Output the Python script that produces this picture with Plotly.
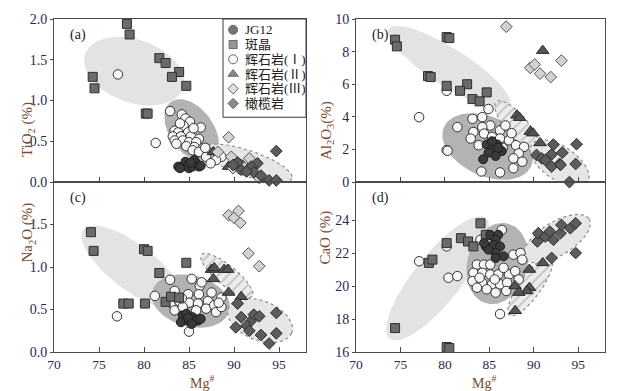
import numpy as np
import plotly.graph_objects as go

# ---------------- data ----------------
# panel (a) TiO2 vs Mg#
a_jg12_x = [83.8, 84.3, 84.6, 84.9, 85.0, 85.4, 85.6, 85.8, 86.1, 86.3, 84.0, 85.2]
a_jg12_y = [0.19, 0.19, 0.25, 0.21, 0.17, 0.19, 0.27, 0.23, 0.19, 0.20, 0.17, 0.24]
a_ph_x = [78.1, 78.4, 74.3, 74.5, 81.7, 82.4, 83.9, 83.1, 84.7, 80.2, 80.4]
a_ph_y = [1.94, 1.81, 1.29, 1.15, 1.52, 1.46, 1.35, 1.29, 1.18, 0.84, 0.84]
a_p1_x = [77.1, 81.3, 82.9, 84.2, 84.6, 85.1, 84.4, 86.3, 83.4, 83.8, 84.9, 83.2, 84.1, 85.2, 86.1, 83.4, 84.3,
          85.0, 85.8, 83.6, 84.7, 85.6, 86.5, 85.4, 86.1, 87.1, 86.9, 88.2, 88.6, 88.0, 87.4, 84.0, 85.5, 86.8]
a_p1_y = [1.32, 0.48, 0.87, 0.83, 0.78, 0.74, 0.69, 0.67, 0.63, 0.61, 0.61, 0.56, 0.56, 0.56, 0.53, 0.51, 0.51,
          0.49, 0.49, 0.47, 0.44, 0.43, 0.41, 0.39, 0.37, 0.37, 0.31, 0.35, 0.31, 0.27, 0.23, 0.72, 0.66, 0.42]
a_p2_x = [87.7, 89.4, 90.0, 91.0, 91.5]
a_p2_y = [0.37, 0.19, 0.22, 0.20, 0.16]
a_p3_x = [89.4, 86.7, 89.7, 91.7, 90.8, 92.8, 88.2, 89.9]
a_p3_y = [0.55, -0.05, 0.31, 0.29, 0.21, 0.05, 0.37, 0.17]
a_ol_x = [94.7, 93.9, 94.7, 92.6, 91.9, 90.8, 92.2, 93.0, 90.4, 89.9, 91.4]
a_ol_y = [0.38, 0.02, 0.02, 0.23, 0.19, 0.15, 0.12, 0.08, 0.24, 0.21, 0.13]

# panel (b) Al2O3 vs Mg#
b_jg12_x = [84.7, 85.9, 85.3, 86.4, 84.9, 85.7, 84.3, 85.3, 86.0]
b_jg12_y = [2.3, 2.3, 2.0, 1.9, 1.8, 1.6, 1.4, 2.5, 2.1]
b_ph_x = [74.4, 74.6, 80.2, 80.5, 78.1, 78.4, 80.2, 82.5, 81.7, 83.1, 83.9, 84.7]
b_ph_y = [8.73, 8.32, 8.89, 8.83, 6.50, 6.44, 5.90, 6.00, 5.60, 5.09, 4.95, 5.50]
b_p1_x = [77.1, 80.2, 80.2, 81.4, 80.3, 84.9, 83.1, 84.2, 85.1, 84.2, 83.2, 84.4, 85.3, 86.2, 86.8,
          86.2, 87.2, 88.0, 88.9, 88.3, 87.7, 88.7, 87.7, 86.2, 84.1, 83.8, 82.9, 85.1, 86.5, 87.5]
b_p1_y = [3.98, 1.96, 5.60, 3.37, 1.92, 4.48, 3.88, 3.98, 3.47, 3.37, 3.07, 2.97, 2.77, 3.17, 3.47,
          2.67, 2.56, 2.26, 2.16, 1.76, 1.45, 1.25, 0.85, 0.59, 0.65, 2.26, 2.67, 2.40, 2.10, 3.00]
b_p2_x = [88.1, 88.4, 89.6, 89.9, 90.7, 91.0]
b_p2_y = [4.10, 3.95, 3.10, 3.00, 2.40, 8.06]
b_p3_x = [86.9, 89.6, 90.1, 90.7, 91.9, 93.1]
b_p3_y = [9.53, 7.01, 7.21, 6.65, 6.44, 7.45]
b_ol_x = [92.2, 94.8, 90.3, 90.9, 92.0, 93.2, 92.9, 92.0, 94.7, 94.0, 91.3, 93.0]
b_ol_y = [2.30, 2.32, 1.66, 1.45, 1.70, 1.80, 1.11, 0.95, 1.11, 0.00, 1.35, 1.05]

# panel (c) Na2O vs Mg#
c_jg12_x = [84.3, 84.7, 85.4, 86.0, 84.1, 85.0, 85.6, 86.3, 84.9, 85.3]
c_jg12_y = [0.43, 0.45, 0.41, 0.37, 0.35, 0.36, 0.37, 0.39, 0.40, 0.33]
c_ph_x = [74.1, 74.4, 80.0, 80.4, 84.7, 81.7, 77.7, 78.3, 80.1, 82.4, 83.0, 83.9]
c_ph_y = [1.41, 1.19, 1.21, 1.19, 1.05, 0.93, 0.57, 0.57, 0.57, 0.59, 0.65, 0.64]
c_p1_x = [77.0, 81.2, 82.9, 85.3, 85.0, 86.2, 83.4, 84.9, 86.1, 83.0, 83.9, 85.0, 86.0,
          87.1, 88.6, 83.4, 84.3, 86.9, 87.8, 88.0, 88.6, 85.8, 86.4, 84.2, 87.5, 88.3]
c_p1_y = [0.42, 0.66, 0.85, 0.86, 0.24, 0.78, 0.72, 0.68, 0.68, 0.58, 0.60, 0.58, 0.57,
          0.60, 0.64, 0.49, 0.53, 0.51, 0.55, 0.47, 0.53, 0.49, 0.82, 0.63, 0.70, 0.58]
c_p2_x = [87.5, 87.8, 88.9, 89.3, 87.7, 89.4, 90.8]
c_p2_y = [0.97, 0.99, 0.97, 0.97, 0.86, 0.70, 0.65]
c_p3_x = [89.4, 90.0, 90.5, 90.7, 91.6, 92.8]
c_p3_y = [1.61, 1.58, 1.66, 1.52, 1.16, 1.01]
c_ol_x = [90.4, 90.8, 90.2, 91.4, 92.1, 92.2, 92.8, 91.7, 93.0, 93.9, 94.7, 94.7]
c_ol_y = [0.57, 0.41, 0.29, 0.31, 0.39, 0.44, 0.42, 0.25, 0.20, 0.10, 0.46, 0.22]

# panel (d) CaO vs Mg#
d_jg12_x = [85.1, 86.0, 85.7, 84.6, 85.5, 86.2, 85.7, 86.6, 85.7, 84.9, 84.4]
d_jg12_y = [23.1, 23.1, 22.8, 22.4, 22.5, 22.4, 22.0, 21.8, 21.7, 22.2, 22.6]
d_ph_x = [74.4, 80.2, 80.5, 78.2, 78.6, 80.2, 81.8, 82.6, 83.2, 84.0, 84.6]
d_ph_y = [17.45, 16.3, 16.24, 21.4, 21.6, 22.6, 22.9, 22.7, 22.4, 23.8, 23.1]
d_p1_x = [77.1, 80.4, 81.4, 80.2, 86.2, 86.4, 83.6, 84.4, 85.1, 83.2, 84.2, 85.1, 86.0, 87.2, 87.9, 83.1,
          84.2, 85.3, 86.2, 87.0, 83.6, 84.7, 85.7, 86.9, 87.7, 88.5, 88.7, 88.3, 84.0, 83.9, 85.6, 86.6]
d_p1_y = [21.5, 20.5, 20.6, 22.4, 18.3, 23.4, 21.3, 21.3, 21.3, 20.8, 20.8, 20.7, 20.7, 20.7, 20.9, 20.3,
          20.2, 20.1, 20.1, 20.2, 19.9, 19.8, 19.6, 19.7, 21.9, 22.0, 21.6, 20.4, 22.8, 20.5, 20.4, 21.1]
d_p2_x = [87.9, 87.9, 89.5, 89.5, 89.2, 91.0, 88.3]
d_p2_y = [18.5, 20.0, 21.0, 19.9, 19.7, 21.4, 19.6]
d_p3_x = []
d_p3_y = []
d_ol_x = [90.4, 90.5, 91.3, 91.8, 92.2, 93.0, 93.1, 94.1, 94.7, 94.7, 92.0]
d_ol_y = [22.7, 23.2, 23.0, 23.3, 22.8, 23.2, 23.7, 23.5, 23.8, 22.0, 21.7]

names = ["JG12", "斑晶", "辉石岩(Ⅰ)", "辉石岩(Ⅱ)", "辉石岩(Ⅲ)", "橄榄岩"]

# ---------------- layout geometry ----------------
W, H = 618, 391
ML, MR, MT, MB = 54, 13, 13, 39
PW, PH = W - ML - MR, H - MT - MB
XDOM_L = [0, 0.4574]
XDOM_R = [0.548, 1]
YDOM_T = [0.5103, 1]
YDOM_B = [0, 0.5103]
XRANGE = [70, 98]
YRANGES = {"a": [0, 2.0], "b": [0, 10], "c": [0, 2.0], "d": [16, 26.3]}


def paper(px, py):
    # page pixel -> paper coordinates
    return (px - ML) / PW, (MT + PH - py) / PH


panels = {
    "a": dict(xa="x", ya="y", xd=XDOM_L, yd=YDOM_T),
    "b": dict(xa="x2", ya="y2", xd=XDOM_R, yd=YDOM_T),
    "c": dict(xa="x3", ya="y3", xd=XDOM_L, yd=YDOM_B),
    "d": dict(xa="x4", ya="y4", xd=XDOM_R, yd=YDOM_B),
}

# field regions: centre (data), semi-axes (px), tilt (deg, screen)
regions = {
    "a": [("light", 78.9, 1.36, 52, 32, 20), ("dark", 85.3, 0.63, 36, 22, 55),
          ("dotted", 91.5, 0.23, 47, 13, 19)],
    "b": [("light", 80.5, 7.03, 72, 19, 33), ("dark", 84.8, 2.18, 48, 30, 25),
          ("hatch", 88.1, 3.45, 32, 11, 50), ("dotted", 92.9, 1.15, 34, 17, 35)],
    "c": [("light", 78.7, 1.00, 62, 23, 38), ("dark", 85.2, 0.60, 40, 26, 15),
          ("hatch", 89.2, 0.90, 33, 10, 40), ("dotted", 92.9, 0.37, 34, 20, 22)],
    "d": [("light", 79.2, 20.46, 78, 24, -52), ("dark", 85.9, 21.36, 42, 30, -75),
          ("hatch", 89.6, 19.98, 36, 11, -55), ("dotted", 92.6, 22.87, 38, 17, -32)],
}

series = {
    "a": [(a_p1_x, a_p1_y), (a_ph_x, a_ph_y), (a_jg12_x, a_jg12_y), (a_p2_x, a_p2_y), (a_p3_x, a_p3_y), (a_ol_x, a_ol_y)],
    "b": [(b_p1_x, b_p1_y), (b_ph_x, b_ph_y), (b_jg12_x, b_jg12_y), (b_p2_x, b_p2_y), (b_p3_x, b_p3_y), (b_ol_x, b_ol_y)],
    "c": [(c_p1_x, c_p1_y), (c_ph_x, c_ph_y), (c_jg12_x, c_jg12_y), (c_p2_x, c_p2_y), (c_p3_x, c_p3_y), (c_ol_x, c_ol_y)],
    "d": [(d_p1_x, d_p1_y), (d_ph_x, d_ph_y), (d_jg12_x, d_jg12_y), (d_p2_x, d_p2_y), (d_p3_x, d_p3_y), (d_ol_x, d_ol_y)],
}
# order of drawing: 辉石岩(I), 斑晶, JG12, (II), (III), 橄榄岩
series_names = [names[2], names[1], names[0], names[3], names[4], names[5]]
markers = {
    "JG12": dict(symbol="circle", size=9, color="#3a3a3a", line=dict(color="#1e1e1e", width=1)),
    "斑晶": dict(symbol="square", size=9, color="#6b6b6b", line=dict(color="#2e2e2e", width=1)),
    "辉石岩(Ⅰ)": dict(symbol="circle", size=9.5, color="#f6f6f6", line=dict(color="#333333", width=1)),
    "辉石岩(Ⅱ)": dict(symbol="triangle-up", size=11, color="#555555", line=dict(color="#2a2a2a", width=1)),
    "辉石岩(Ⅲ)": dict(symbol="diamond", size=9, color="#d2d2d2", line=dict(color="#555555", width=1)),
    "橄榄岩": dict(symbol="diamond", size=9, color="#5c5c5c", line=dict(color="#2a2a2a", width=1)),
}

SERIF = "Liberation Serif, Times New Roman, Noto Sans CJK SC, serif"
TICK_COLOR = "#2a2a48"
TITLE_COLOR = "#7a4a2c"

fig = go.Figure()


def ellipse(cx, cy, a, b, ang, kx, ky):
    t = np.linspace(0, 2 * np.pi, 91)
    th = np.radians(ang)
    u, v = a * np.cos(t), b * np.sin(t)
    du = u * np.cos(th) - v * np.sin(th)
    dv = u * np.sin(th) + v * np.cos(th)
    return cx + du / kx, cy - dv / ky


for key, p in panels.items():
    kx = (p["xd"][1] - p["xd"][0]) * PW / (XRANGE[1] - XRANGE[0])
    yr = YRANGES[key]
    ky = (p["yd"][1] - p["yd"][0]) * PH / (yr[1] - yr[0])
    for kind, cx, cy, a, b, ang in regions[key]:
        ex, ey = ellipse(cx, cy, a, b, ang, kx, ky)
        kw = dict(x=ex, y=ey, xaxis=p["xa"], yaxis=p["ya"], mode="lines", fill="toself",
                  showlegend=False, hoverinfo="skip")
        if kind == "light":
            kw.update(fillcolor="#e3e3e3", line=dict(width=0))
        elif kind == "dark":
            kw.update(fillcolor="#b3b3b3", line=dict(width=0))
        elif kind == "dotted":
            kw.update(fillcolor="#e6e6e6", line=dict(color="#8c8c8c", width=1.2, dash="dot"))
        else:
            kw.update(fillcolor="#ececec", line=dict(color="#8c8c8c", width=1.2, dash="dot"),
                      fillpattern=dict(shape="/", fgcolor="#999999", bgcolor="#ececec", size=7, solidity=0.25))
        fig.add_trace(go.Scatter(**kw))
    for nm, (sx, sy) in zip(series_names, series[key]):
        if not sx:
            continue
        fig.add_trace(go.Scatter(x=sx, y=sy, xaxis=p["xa"], yaxis=p["ya"], mode="markers",
                                 marker=markers[nm], name=nm, showlegend=False, cliponaxis=False))

# manual legend in panel (a)
leg_x0, leg_y0 = paper(223, 113)
leg_names = names
fig.add_trace(go.Scatter(
    x=[10] * 6, y=[11, 26, 41, 56, 71, 86], xaxis="x5", yaxis="y5", mode="markers",
    marker=dict(symbol=[markers[n]["symbol"] for n in leg_names],
                size=[9, 8, 9, 9, 8, 8],
                color=[markers[n]["color"] for n in leg_names],
                line=dict(color="#2a2a2a", width=1)),
    showlegend=False, hoverinfo="skip"))

axis_common = dict(showgrid=False, zeroline=False, showline=True, linecolor="#4a4a4a", linewidth=1,
                   mirror=True, ticklabeloverflow="allow",
                   tickfont=dict(family=SERIF, size=14, color=TICK_COLOR))
layout = dict(width=W, height=H, margin=dict(l=ML, r=MR, t=MT, b=MB),
              plot_bgcolor="white", paper_bgcolor="white", showlegend=False)

ytick = {"a": [0, 0.5, 1.0, 1.5, 2.0], "b": [0, 2, 4, 6, 8, 10], "c": [0, 0.5, 1.0, 1.5], "d": [16, 18, 20, 22, 24]}
ytxt = {"a": ["0.0", "0.5", "1.0", "1.5", "2.0"], "b": ["0", "2", "4", "6", "8", "10"],
        "c": ["0.0", "0.5", "1.0", "1.5"], "d": ["16", "18", "20", "22", "24"]}
for i, (key, p) in enumerate(panels.items(), start=1):
    sfx = "" if i == 1 else str(i)
    bottom = key in ("c", "d")
    layout["xaxis" + sfx] = dict(axis_common, domain=p["xd"], range=XRANGE, anchor=p["ya"],
                                 tickvals=[70, 75, 80, 85, 90, 95], ticks="inside", ticklen=5,
                                 tickcolor="#4a4a4a", showticklabels=bottom,
                                 tickfont=dict(family=SERIF, size=13.5, color=TICK_COLOR))
    layout["yaxis" + sfx] = dict(axis_common, domain=p["yd"], range=YRANGES[key], anchor=p["xa"],
                                 tickvals=ytick[key], ticktext=ytxt[key], ticks="outside", ticklen=3,
                                 tickcolor="#4a4a4a")
layout["xaxis5"] = dict(domain=[leg_x0, XDOM_L[1]], range=[0, 82], visible=False, anchor="y5", fixedrange=True)
layout["yaxis5"] = dict(domain=[leg_y0, 1], range=[100, 0], visible=False, anchor="x5", fixedrange=True)
fig.update_layout(**layout)

fig.add_shape(type="rect", xref="paper", yref="paper", x0=leg_x0, x1=XDOM_L[1], y0=leg_y0, y1=1,
              line=dict(color="#3a3a3a", width=1))

ann = []
for i, nm in enumerate(leg_names):
    ann.append(dict(x=20, y=11 + 15 * i, xref="x5", yref="y5", text=nm, showarrow=False, xanchor="left",
                    font=dict(family=SERIF, size=13, color="#222222")))
for key, p in panels.items():
    ann.append(dict(x=p["xd"][0] + 14 / PW, y=p["yd"][1] - 16 / PH, xref="paper", yref="paper",
                    text="(%s)" % key, showarrow=False, xanchor="left", yanchor="middle",
                    font=dict(family=SERIF, size=14, color="#222222")))
ytitles = [("TiO<sub>2</sub> (%)", 17, 96), ("Al<sub>2</sub>O<sub>3</sub>(%)", 327, 95),
           ("Na<sub>2</sub>O (%)", 17, 263), ("CaO (%)", 326, 265)]
for txt, px, py in ytitles:
    tx, ty = paper(px, py)
    ann.append(dict(x=tx, y=ty, xref="paper", yref="paper", text=txt,
                    textangle=-90, showarrow=False, font=dict(family=SERIF, size=15, color=TITLE_COLOR)))
for px in (188, 498):
    tx, ty = paper(px, 371)
    ann.append(dict(x=tx, y=ty, xref="paper", yref="paper", yanchor="top",
                    text="Mg<sup>#</sup>", showarrow=False, font=dict(family=SERIF, size=14, color=TITLE_COLOR)))
fig.update_layout(annotations=ann)

# drop the default page margin so the figure sits at the window's top-left corner
fig.write_html("out.html", config={"displayModeBar": False},
               post_script="document.body.style.margin='0';document.body.style.overflow='hidden';")
